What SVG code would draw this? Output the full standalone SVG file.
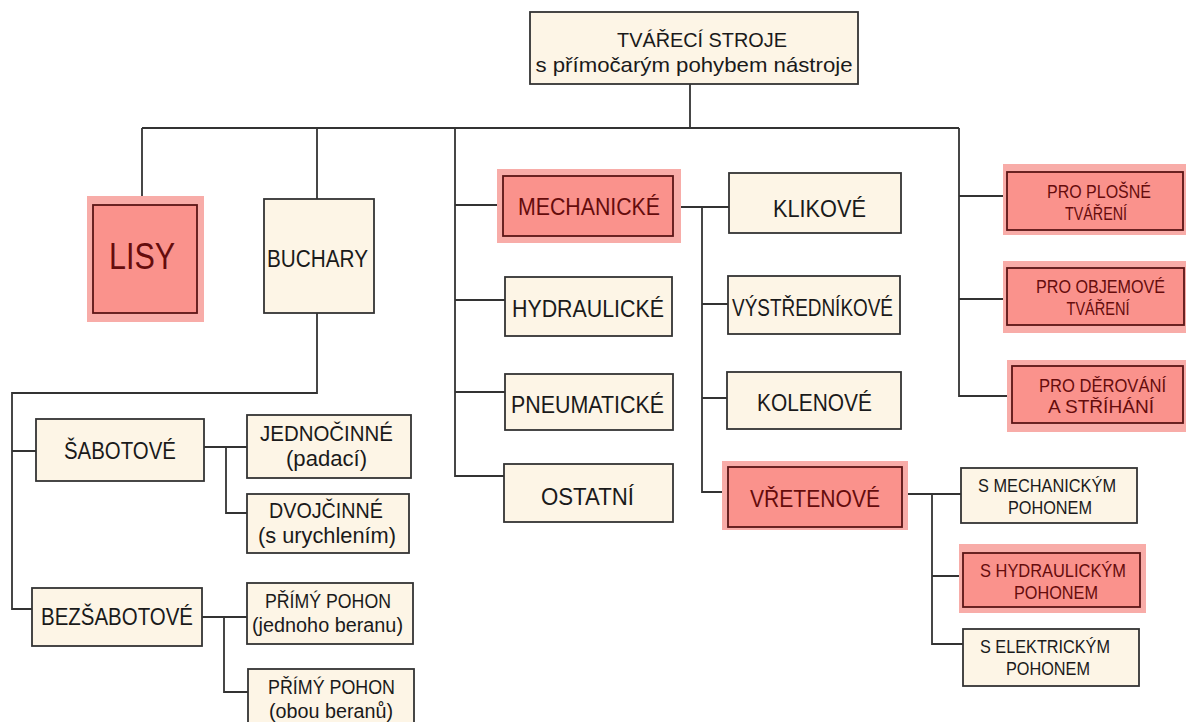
<svg xmlns="http://www.w3.org/2000/svg" width="1186" height="722" viewBox="0 0 1186 722">
<style>
.n{fill:#fdf5e6;stroke:#333;stroke-width:1.8}
.hl{fill:#f8aca8;stroke:none}
.h{fill:#fa928c;stroke:#5a1616;stroke-width:1.8}
text{font-family:"Liberation Sans",Arial,sans-serif;text-anchor:middle;fill:#1a1a1a}
.t{font-size:24px}
.s{font-size:18px}
.r{fill:#650c0c}
.c{fill:none;stroke:#333;stroke-width:1.8}
</style>
<rect width="1186" height="722" fill="#ffffff"/>
<g id="connectors" class="c">
<path d="M690,84V128M142,128H959M142,128V205M317,128V199"/>
<path d="M455,128V476H504M455,205H503M455,300H505M455,392H505"/>
<path d="M959,128V396H1012M959,196H1007M959,299H1007"/>
<path d="M317,313V393H12V609H32M12,451H36"/>
<path d="M204,447H247M226,447V513H247"/>
<path d="M202,617H247M224,617V692H248"/>
<path d="M673,207H729M702,207V492H728M702,304H728M702,398H727"/>
<path d="M902,494H961M932,494V644H963M932,576H963"/>
</g>
<g id="root">
<rect class="n" x="530" y="12" width="328" height="72"/>
<text x="702" y="47" font-size="21" textLength="170" lengthAdjust="spacingAndGlyphs">TVÁŘECÍ STROJE</text>
<text x="694" y="72" font-size="21" textLength="317" lengthAdjust="spacingAndGlyphs">s přímočarým pohybem nástroje</text>
</g>
<g id="lisy">
<rect class="hl" x="87" y="196" width="117" height="126"/>
<rect class="h" x="93" y="205" width="104" height="108"/>
<text class="r" x="142" y="269" font-size="36" textLength="66" lengthAdjust="spacingAndGlyphs">LISY</text>
</g>
<g id="buchary">
<rect class="n" x="264" y="199" width="110" height="114"/>
<text x="317.5" y="267" font-size="23" textLength="101" lengthAdjust="spacingAndGlyphs">BUCHARY</text>
</g>
<g id="mechanicke">
<rect class="hl" x="497" y="169" width="184" height="74"/>
<rect class="h" x="503" y="176" width="170" height="60"/>
<text class="t r" x="589" y="215" textLength="142" lengthAdjust="spacingAndGlyphs">MECHANICKÉ</text>
</g>
<g id="hydraulicke">
<rect class="n" x="505" y="277" width="167" height="59"/>
<text class="t" x="588" y="317" textLength="152" lengthAdjust="spacingAndGlyphs">HYDRAULICKÉ</text>
</g>
<g id="pneumaticke">
<rect class="n" x="505" y="374" width="168" height="56"/>
<text class="t" x="587.5" y="413" textLength="153" lengthAdjust="spacingAndGlyphs">PNEUMATICKÉ</text>
</g>
<g id="ostatni">
<rect class="n" x="504" y="464" width="169" height="58"/>
<text class="t" x="587.5" y="505" textLength="93" lengthAdjust="spacingAndGlyphs">OSTATNÍ</text>
</g>
<g id="klikove">
<rect class="n" x="729" y="173" width="172" height="60"/>
<text class="t" x="819.5" y="217" textLength="93" lengthAdjust="spacingAndGlyphs">KLIKOVÉ</text>
</g>
<g id="vystrednikove">
<rect class="n" x="728" y="276" width="172" height="58"/>
<text class="t" x="812.5" y="316" textLength="161" lengthAdjust="spacingAndGlyphs">VÝSTŘEDNÍKOVÉ</text>
</g>
<g id="kolenove">
<rect class="n" x="727" y="372" width="174" height="57"/>
<text class="t" x="814.5" y="411" textLength="115" lengthAdjust="spacingAndGlyphs">KOLENOVÉ</text>
</g>
<g id="vretenove">
<rect class="hl" x="722" y="461" width="186" height="69"/>
<rect class="h" x="728" y="467" width="174" height="60"/>
<text class="t r" x="815" y="507" textLength="130" lengthAdjust="spacingAndGlyphs">VŘETENOVÉ</text>
</g>
<g id="s-mechanickym">
<rect class="n" x="961" y="468" width="176" height="55"/>
<text class="s" x="1047" y="492" textLength="138" lengthAdjust="spacingAndGlyphs">S MECHANICKÝM</text>
<text class="s" x="1050" y="514" textLength="84" lengthAdjust="spacingAndGlyphs">POHONEM</text>
</g>
<g id="s-hydraulickym">
<rect class="hl" x="959" y="544" width="187" height="69"/>
<rect class="h" x="963" y="553" width="177" height="54"/>
<text class="s r" x="1053" y="577" textLength="146" lengthAdjust="spacingAndGlyphs">S HYDRAULICKÝM</text>
<text class="s r" x="1056" y="599" textLength="84" lengthAdjust="spacingAndGlyphs">POHONEM</text>
</g>
<g id="s-elektrickym">
<rect class="n" x="963" y="629" width="176" height="57"/>
<text class="s" x="1045" y="653" textLength="130" lengthAdjust="spacingAndGlyphs">S ELEKTRICKÝM</text>
<text class="s" x="1048" y="675" textLength="84" lengthAdjust="spacingAndGlyphs">POHONEM</text>
</g>
<g id="pro-plosne">
<rect class="hl" x="1003" y="164" width="183" height="71"/>
<rect class="h" x="1007" y="172" width="176" height="58"/>
<text class="s r" x="1099" y="198" textLength="104" lengthAdjust="spacingAndGlyphs">PRO PLOŠNÉ</text>
<text class="s r" x="1096" y="220" textLength="62" lengthAdjust="spacingAndGlyphs">TVÁŘENÍ</text>
</g>
<g id="pro-objemove">
<rect class="hl" x="1003" y="261" width="183" height="72"/>
<rect class="h" x="1007" y="268" width="177" height="57"/>
<text class="s r" x="1100.5" y="293" textLength="129" lengthAdjust="spacingAndGlyphs">PRO OBJEMOVÉ</text>
<text class="s r" x="1098" y="315" textLength="63" lengthAdjust="spacingAndGlyphs">TVÁŘENÍ</text>
</g>
<g id="pro-derovani">
<rect class="hl" x="1007" y="360" width="179" height="72"/>
<rect class="h" x="1012" y="366" width="171" height="57"/>
<text class="s r" x="1102.5" y="392" textLength="127" lengthAdjust="spacingAndGlyphs">PRO DĚROVÁNÍ</text>
<text class="s r" x="1101" y="413" textLength="106" lengthAdjust="spacingAndGlyphs">A STŘÍHÁNÍ</text>
</g>
<g id="sabotove">
<rect class="n" x="36" y="419" width="168" height="62"/>
<text class="t" x="120" y="459" textLength="112" lengthAdjust="spacingAndGlyphs">ŠABOTOVÉ</text>
</g>
<g id="bezsabotove">
<rect class="n" x="32" y="588" width="170" height="58"/>
<text class="t" x="117" y="625" textLength="152" lengthAdjust="spacingAndGlyphs">BEZŠABOTOVÉ</text>
</g>
<g id="jednocinne">
<rect class="n" x="247" y="415" width="164" height="63"/>
<text x="326.5" y="441" font-size="22" textLength="133" lengthAdjust="spacingAndGlyphs">JEDNOČINNÉ</text>
<text x="326.5" y="466" font-size="22" textLength="81" lengthAdjust="spacingAndGlyphs">(padací)</text>
</g>
<g id="dvojcinne">
<rect class="n" x="247" y="494" width="162" height="59"/>
<text x="326" y="518" font-size="22" textLength="114" lengthAdjust="spacingAndGlyphs">DVOJČINNÉ</text>
<text x="327" y="543" font-size="22" textLength="138" lengthAdjust="spacingAndGlyphs">(s urychlením)</text>
</g>
<g id="primy-jednoho">
<rect class="n" x="247" y="583" width="166" height="61"/>
<text x="328" y="608" font-size="20" textLength="126" lengthAdjust="spacingAndGlyphs">PŘÍMÝ POHON</text>
<text x="327.5" y="632" font-size="20" textLength="151" lengthAdjust="spacingAndGlyphs">(jednoho beranu)</text>
</g>
<g id="primy-obou">
<rect class="n" x="248" y="669" width="166" height="70"/>
<text x="331.5" y="694" font-size="20" textLength="127" lengthAdjust="spacingAndGlyphs">PŘÍMÝ POHON</text>
<text x="331" y="718" font-size="20" textLength="124" lengthAdjust="spacingAndGlyphs">(obou beranů)</text>
</g>
</svg>
